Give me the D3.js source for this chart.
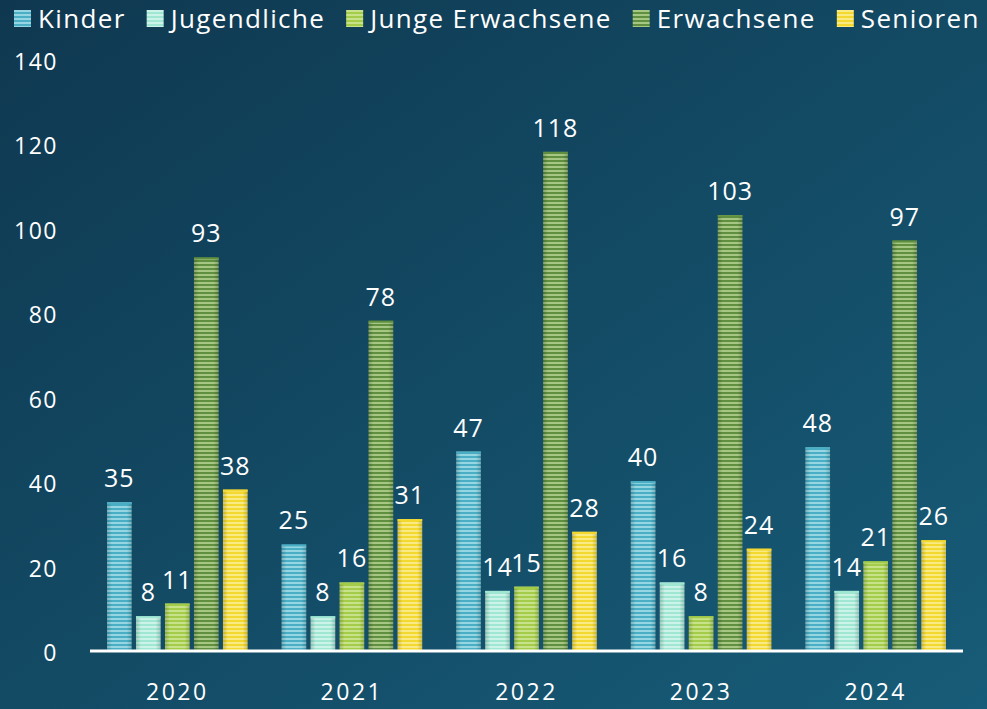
<!DOCTYPE html>
<html><head><meta charset="utf-8">
<script src="https://cdn.jsdelivr.net/npm/d3@7"></script>
<style>html,body{margin:0;padding:0;background:#12465e;}svg{display:block;}</style>
</head><body>
<svg id="c" width="987" height="709"></svg>
<script>
const years = ["2020","2021","2022","2023","2024"];
const seriesNames = ["Kinder","Jugendliche","Junge Erwachsene","Erwachsene","Senioren"];
const kinder = [35,25,47,40,48];
const jugendliche = [8,8,14,16,14];
const jungeErwachsene = [11,16,15,8,21];
const erwachsene = [93,78,118,103,97];
const senioren = [38,31,28,24,26];
const yTicks = [0,20,40,60,80,100,120,140];
const seriesValues = [kinder, jugendliche, jungeErwachsene, erwachsene, senioren];
const baseColors = ["#4aaec4","#9fe6d3","#a3cc4a","#5f8f3f","#f3d830"];
const stripeColors = ["#a3dde8","#d2f6ec","#cfe794","#b3d08f","#fbee92"];

const W = 987, H = 709;
const svg = d3.select("#c");
const font = "'Open Sans', 'Noto Sans', sans-serif";
const defs = svg.append("defs");
const bg = defs.append("linearGradient").attr("id","bg").attr("x1","0").attr("y1","0").attr("x2","1").attr("y2","1");
bg.append("stop").attr("offset","0%").attr("stop-color","#0f3850");
bg.append("stop").attr("offset","100%").attr("stop-color","#175c78");
svg.append("rect").attr("width",W).attr("height",H).attr("fill","url(#bg)");

seriesNames.forEach((n,i)=>{
  const p = defs.append("pattern").attr("id","pat"+i).attr("patternUnits","userSpaceOnUse")
    .attr("width",8).attr("height",4);
  p.append("rect").attr("width",8).attr("height",4).attr("fill",baseColors[i]);
  p.append("rect").attr("y",2).attr("width",8).attr("height",2).attr("fill",stripeColors[i]).attr("opacity",0.85);
});
const sh = defs.append("linearGradient").attr("id","shade").attr("x1","0").attr("x2","1").attr("y1","0").attr("y2","0");
sh.append("stop").attr("offset","0%").attr("stop-color","#000").attr("stop-opacity",0.18);
sh.append("stop").attr("offset","20%").attr("stop-color","#000").attr("stop-opacity",0);
sh.append("stop").attr("offset","80%").attr("stop-color","#000").attr("stop-opacity",0);
sh.append("stop").attr("offset","100%").attr("stop-color","#000").attr("stop-opacity",0.18);

const x0 = d3.scaleBand().domain(years).range([90,963]).paddingInner(0).paddingOuter(0);
const x1 = d3.scaleBand().domain(seriesNames).range([17, x0.bandwidth()-17]).paddingInner(0.15).paddingOuter(0);
const y = d3.scaleLinear().domain([0,140]).range([650,59]);

// y tick labels
svg.append("g").selectAll("text").data(yTicks).join("text")
  .attr("x",58).attr("y",d=>y(d)+11).attr("text-anchor","end")
  .attr("font-family",font).attr("font-size",23).attr("letter-spacing",1.5).attr("fill","#fff").text(d=>d);

// bars
const g = svg.append("g");
years.forEach((yr,yi)=>{
  seriesNames.forEach((s,si)=>{
    const v = seriesValues[si][yi];
    const bx = x0(yr)+x1(s), bw = x1.bandwidth();
    g.append("rect").attr("x",bx).attr("y",y(v)).attr("width",bw).attr("height",y(0)-y(v))
      .attr("fill","url(#pat"+si+")");
    g.append("rect").attr("x",bx).attr("y",y(v)).attr("width",bw).attr("height",y(0)-y(v))
      .attr("fill","url(#shade)");
    g.append("rect").attr("x",bx).attr("y",y(v)).attr("width",bw).attr("height",2)
      .attr("fill",baseColors[si]);
    g.append("text").attr("x",bx+bw/2).attr("y",y(v)-15).attr("text-anchor","middle")
      .attr("font-family",font).attr("font-size",25).attr("letter-spacing",1).attr("fill","#fff").text(v);
  });
});

// x axis line
svg.append("line").attr("x1",90).attr("x2",963).attr("y1",y(0)+1).attr("y2",y(0)+1)
  .attr("stroke","#fff").attr("stroke-width",3);
// x labels
svg.append("g").selectAll("text").data(years).join("text")
  .attr("x",d=>x0(d)+x0.bandwidth()/2).attr("y",700).attr("text-anchor","middle")
  .attr("font-family",font).attr("font-size",23).attr("fill","#fff").attr("letter-spacing",2.5).text(d=>d);

// legend
const lg = svg.append("g");
let lx = 14;
seriesNames.forEach((s,i)=>{
  lg.append("rect").attr("x",lx).attr("y",10).attr("width",17).attr("height",17).attr("fill","url(#pat"+i+")");
  const t = lg.append("text").attr("x",lx+24).attr("y",28).attr("font-family",font).attr("font-size",26)
    .attr("letter-spacing",1.35).attr("fill","#fff").text(s);
  lx += 24 + t.node().getComputedTextLength() + 21;
});
</script>
</body></html>
